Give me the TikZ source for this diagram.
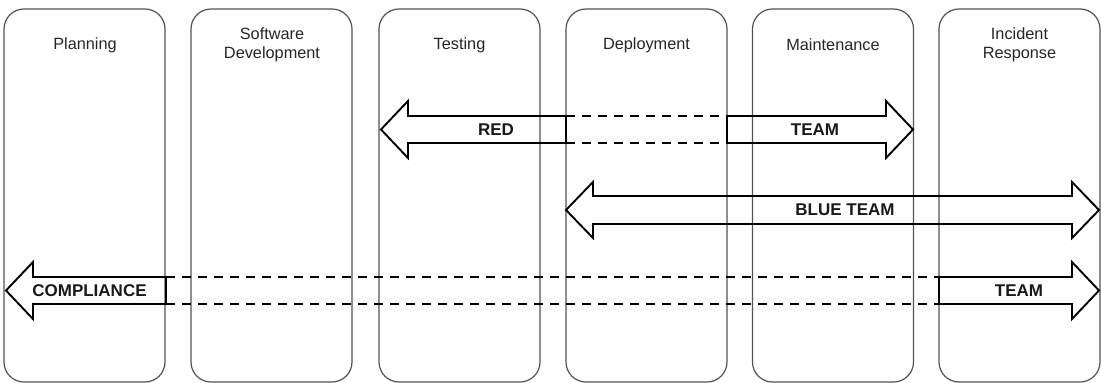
\documentclass[tikz,border=0pt]{standalone}
\usepackage{fontspec}
\setmainfont{Liberation Sans}
\begin{document}
\begin{tikzpicture}[x=1pt,y=-1pt,
  stage/.style={draw=black!68, line width=1.2pt, rounded corners=20pt,
    minimum width=161pt, minimum height=373pt, inner sep=0pt},
  stagetitle/.style={font=\fontsize{16.3}{18.5}\selectfont, align=center, text=black!85},
  blockarrow/.style={draw=black, line width=1.9pt, line join=miter},
  trail/.style={draw=black, line width=2pt, dash pattern=on 9pt off 7pt},
  teamlabel/.style={font=\bfseries\fontsize{17}{19}\selectfont, inner sep=0pt, text=black!90}]
\useasboundingbox (0,0) rectangle (1101,383);

% lifecycle stages
\node[stage] (plan) at (84.5,195.5) {};
\node[stage] (dev)  at (271.5,195.5) {};
\node[stage] (test) at (459.5,195.5) {};
\node[stage] (dep)  at (646.5,195.5) {};
\node[stage] (main) at (833,195.5) {};
\node[stage] (inc)  at (1019.5,195.5) {};

\node[stagetitle] (planT) at (85,45) {Planning};
\node[stagetitle] (devT)  at (272,45) {Software\\Development};
\node[stagetitle] (testT) at (459.5,45) {Testing};
\node[stagetitle] (depT)  at (646.5,45) {Deployment};
\node[stagetitle] (mainT) at (833,45) {Maintenance};
\node[stagetitle] (incT)  at (1019.5,45) {Incident\\Response};

% red team: testing <- deployment ... maintenance ->
\draw[blockarrow] (566,116) -- (408,116) -- (408,101) -- (381,129.5)
  -- (408,158) -- (408,143) -- (566,143) -- cycle;
\draw[trail] (566,116) -- (727,116);
\draw[trail] (566,143) -- (727,143);
\draw[blockarrow] (727,116) -- (886,116) -- (886,101) -- (913,129.5)
  -- (886,158) -- (886,143) -- (727,143) -- cycle;
\node[teamlabel] (redL) at (496,129.5) {RED};
\node[teamlabel] (redT) at (815,129.5) {TEAM};

% blue team: deployment <-> incident response
\draw[blockarrow] (566,210) -- (593,182) -- (593,196) -- (1072,196) -- (1072,182)
  -- (1099,210) -- (1072,238) -- (1072,224) -- (593,224) -- (593,238) -- cycle;
\node[teamlabel] (blueL) at (845,210) {BLUE TEAM};

% compliance team: planning ... incident response
\draw[blockarrow] (166,277) -- (33,277) -- (33,262) -- (6,290.5)
  -- (33,319) -- (33,304) -- (166,304) -- cycle;
\draw[trail] (166,277) -- (939,277);
\draw[trail] (166,304) -- (939,304);
\draw[blockarrow] (939,277) -- (1072,277) -- (1072,262) -- (1099,290.5)
  -- (1072,319) -- (1072,304) -- (939,304) -- cycle;
\node[teamlabel] (compL) at (89.5,290.5) {COMPLIANCE};
\node[teamlabel] (compT) at (1019,290.5) {TEAM};
\end{tikzpicture}
\end{document}
